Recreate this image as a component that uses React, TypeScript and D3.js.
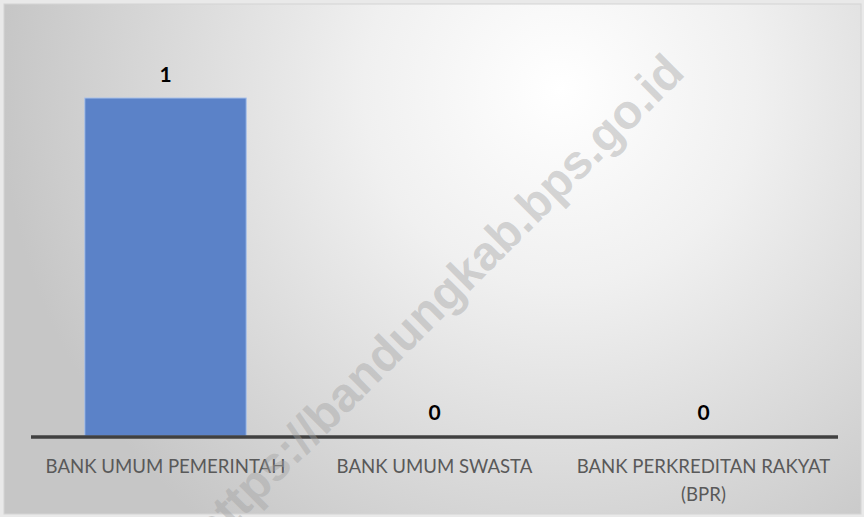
import React from "react";
import * as d3 from "d3";

const categories: string[][] = [
  ["BANK UMUM PEMERINTAH"],
  ["BANK UMUM SWASTA"],
  ["BANK PERKREDITAN RAKYAT", "(BPR)"],
];
const values: number[] = [1, 0, 0];
const watermark = "https://bandungkab.bps.go.id";

const W = 864;
const H = 517;

export default function App() {
  const x = d3
    .scaleBand<number>()
    .domain(values.map((_, i) => i))
    .range([31, 838])
    .paddingInner(0.4)
    .paddingOuter(0.2);
  const y = d3.scaleLinear().domain([0, 1]).range([436, 98]);

  return (
    <svg
      width={W}
      height={H}
      style={{ position: "absolute", left: 0, top: 0 }}
      xmlns="http://www.w3.org/2000/svg"
    >
      <defs>
        <radialGradient
          id="bg"
          gradientUnits="userSpaceOnUse"
          cx={560}
          cy={90}
          r={560}
        >
          <stop offset="0" stopColor="#ffffff" />
          <stop offset="0.35" stopColor="#f0f0f0" />
          <stop offset="1" stopColor="#c6c6c6" />
        </radialGradient>
      </defs>
      <rect x={0} y={0} width={W} height={H} fill="#e9e9e9" />
      <rect x={4} y={4} width={857} height={510} fill="url(#bg)" stroke="#d4d4d4" strokeWidth={1} />

      {values.map((v, i) => (
        <rect
          key={"b" + i}
          x={x(i)}
          y={y(v)}
          width={x.bandwidth()}
          height={y(0) - y(v)}
          fill="#5b82c8"
          stroke="#a9c1ea"
          strokeWidth={1}
        />
      ))}

      <line x1={31} x2={838} y1={437} y2={437} stroke="#404040" strokeWidth={3.5} />

      {values.map((v, i) => (
        <text
          key={"v" + i}
          x={x(i)! + x.bandwidth() / 2}
          y={y(v) - 16}
          textAnchor="middle"
          fontFamily="Lato, 'Open Sans', sans-serif"
          fontWeight="bold"
          fontSize={21}
          fill="#000000"
        >
          {v}
        </text>
      ))}

      {categories.map((lines, i) => (
        <text
          key={"c" + i}
          x={x(i)! + x.bandwidth() / 2}
          y={473}
          textAnchor="middle"
          fontFamily="Lato, 'Open Sans', sans-serif"
          fontSize={18.6}
          fill="#595959"
        >
          {lines.map((l, j) => (
            <tspan key={j} x={x(i)! + x.bandwidth() / 2} dy={j === 0 ? 0 : 28}>
              {l}
            </tspan>
          ))}
        </text>
      ))}

      <text
        transform="translate(440,303) rotate(-45)"
        textAnchor="middle"
        dominantBaseline="middle"
        fontFamily="'Liberation Sans', Arial, sans-serif"
        fontWeight="bold"
        fontSize={48}
        fill="#a0a0a0"
        fillOpacity={0.42}
      >
        {watermark}
      </text>
    </svg>
  );
}
